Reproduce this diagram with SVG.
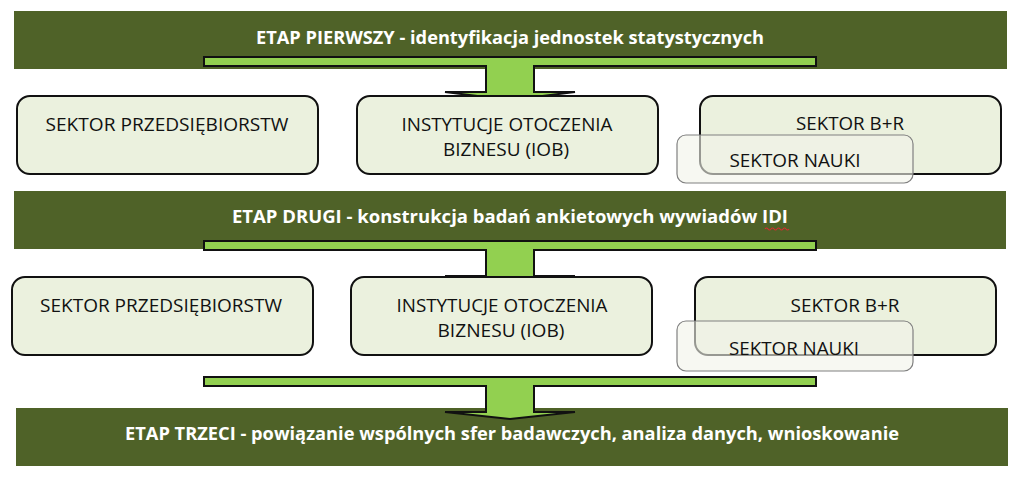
<svg xmlns="http://www.w3.org/2000/svg" width="1024" height="479" viewBox="0 0 1024 479">
<style>
.band{fill:#4f6228}
.bt{font-family:"Open Sans","Liberation Sans",sans-serif;font-weight:bold;font-size:17.5px;fill:#ffffff;text-anchor:middle}
.arrow{fill:#92d050;stroke:#111;stroke-width:2;stroke-linejoin:miter}
.box{fill:#ebf1de;stroke:#111;stroke-width:2}
.sub{fill:#f1f4ea;fill-opacity:0.6;stroke:#808080;stroke-width:1.2}
.t{font-family:"Open Sans","Liberation Sans",sans-serif;font-size:18.5px;fill:#111;text-anchor:middle}
</style>
<rect width="1024" height="479" fill="#ffffff"/>

<g id="etap1">
<rect class="band" x="14" y="11" width="993" height="58"/>
<text class="bt" x="510" y="44" textLength="508" lengthAdjust="spacingAndGlyphs">ETAP PIERWSZY - identyfikacja jednostek statystycznych</text>
</g>
<g id="etap2">
<rect class="band" x="14" y="191" width="992" height="58"/>
<text class="bt" x="510" y="223" textLength="556" lengthAdjust="spacingAndGlyphs">ETAP DRUGI - konstrukcja badań ankietowych  wywiadów IDI</text>
<path d="M765,229 q1.5,-2 3,0 t3,0 t3,0 t3,0 t3,0 t3,0 t3,0 t3,0" fill="none" stroke="#d03030" stroke-width="1.2"/>
</g>
<g id="etap3">
<rect class="band" x="16" y="408" width="992" height="58"/>
<text class="bt" x="512" y="440" textLength="774" lengthAdjust="spacingAndGlyphs">ETAP TRZECI - powiązanie wspólnych sfer badawczych, analiza danych, wnioskowanie</text>
</g>

<g id="connectors">
<path class="arrow" d="M204,57 H816 V66 H534 V92 H575 L510,100 L445,92 H486 V66 H204 Z"/>
<path class="arrow" d="M204,241 H816 V250 H534 V276 H575 L510,284 L445,276 H486 V250 H204 Z"/>
<path class="arrow" d="M204,377 H816 V386 H534 V412 H575 L510,419 L445,412 H486 V386 H204 Z"/>
</g>

<g id="r1-przedsiebiorstw">
<rect class="box" x="17" y="96" width="301" height="78" rx="13"/>
<text class="t" x="167" y="131" textLength="243" lengthAdjust="spacingAndGlyphs">SEKTOR PRZEDSIĘBIORSTW</text>
</g>
<g id="r1-iob">
<rect class="box" x="357" y="96" width="301" height="78" rx="13"/>
<text class="t" x="507" y="131" textLength="211" lengthAdjust="spacingAndGlyphs">INSTYTUCJE OTOCZENIA</text>
<text class="t" x="506" y="156" textLength="126" lengthAdjust="spacingAndGlyphs">BIZNESU (IOB)</text>
</g>
<g id="r1-br">
<rect class="box" x="700" y="96" width="301" height="78" rx="13"/>
<text class="t" x="850" y="130" textLength="108" lengthAdjust="spacingAndGlyphs">SEKTOR B+R</text>
</g>
<g id="r1-nauki">
<rect class="sub" x="677" y="135" width="236" height="48" rx="9"/>
<text class="t" x="795" y="167" textLength="131" lengthAdjust="spacingAndGlyphs">SEKTOR NAUKI</text>
</g>

<g id="r2-przedsiebiorstw">
<rect class="box" x="12" y="277" width="301" height="78" rx="13"/>
<text class="t" x="161" y="312" textLength="242" lengthAdjust="spacingAndGlyphs">SEKTOR PRZEDSIĘBIORSTW</text>
</g>
<g id="r2-iob">
<rect class="box" x="351" y="277" width="301" height="78" rx="13"/>
<text class="t" x="502" y="312" textLength="211" lengthAdjust="spacingAndGlyphs">INSTYTUCJE OTOCZENIA</text>
<text class="t" x="501" y="337" textLength="127" lengthAdjust="spacingAndGlyphs">BIZNESU (IOB)</text>
</g>
<g id="r2-br">
<rect class="box" x="695" y="277" width="301" height="78" rx="13"/>
<text class="t" x="845" y="312" textLength="109" lengthAdjust="spacingAndGlyphs">SEKTOR B+R</text>
</g>
<g id="r2-nauki">
<rect class="sub" x="677" y="321" width="236" height="50" rx="9"/>
<text class="t" x="794" y="355" textLength="130" lengthAdjust="spacingAndGlyphs">SEKTOR NAUKI</text>
</g>
</svg>
